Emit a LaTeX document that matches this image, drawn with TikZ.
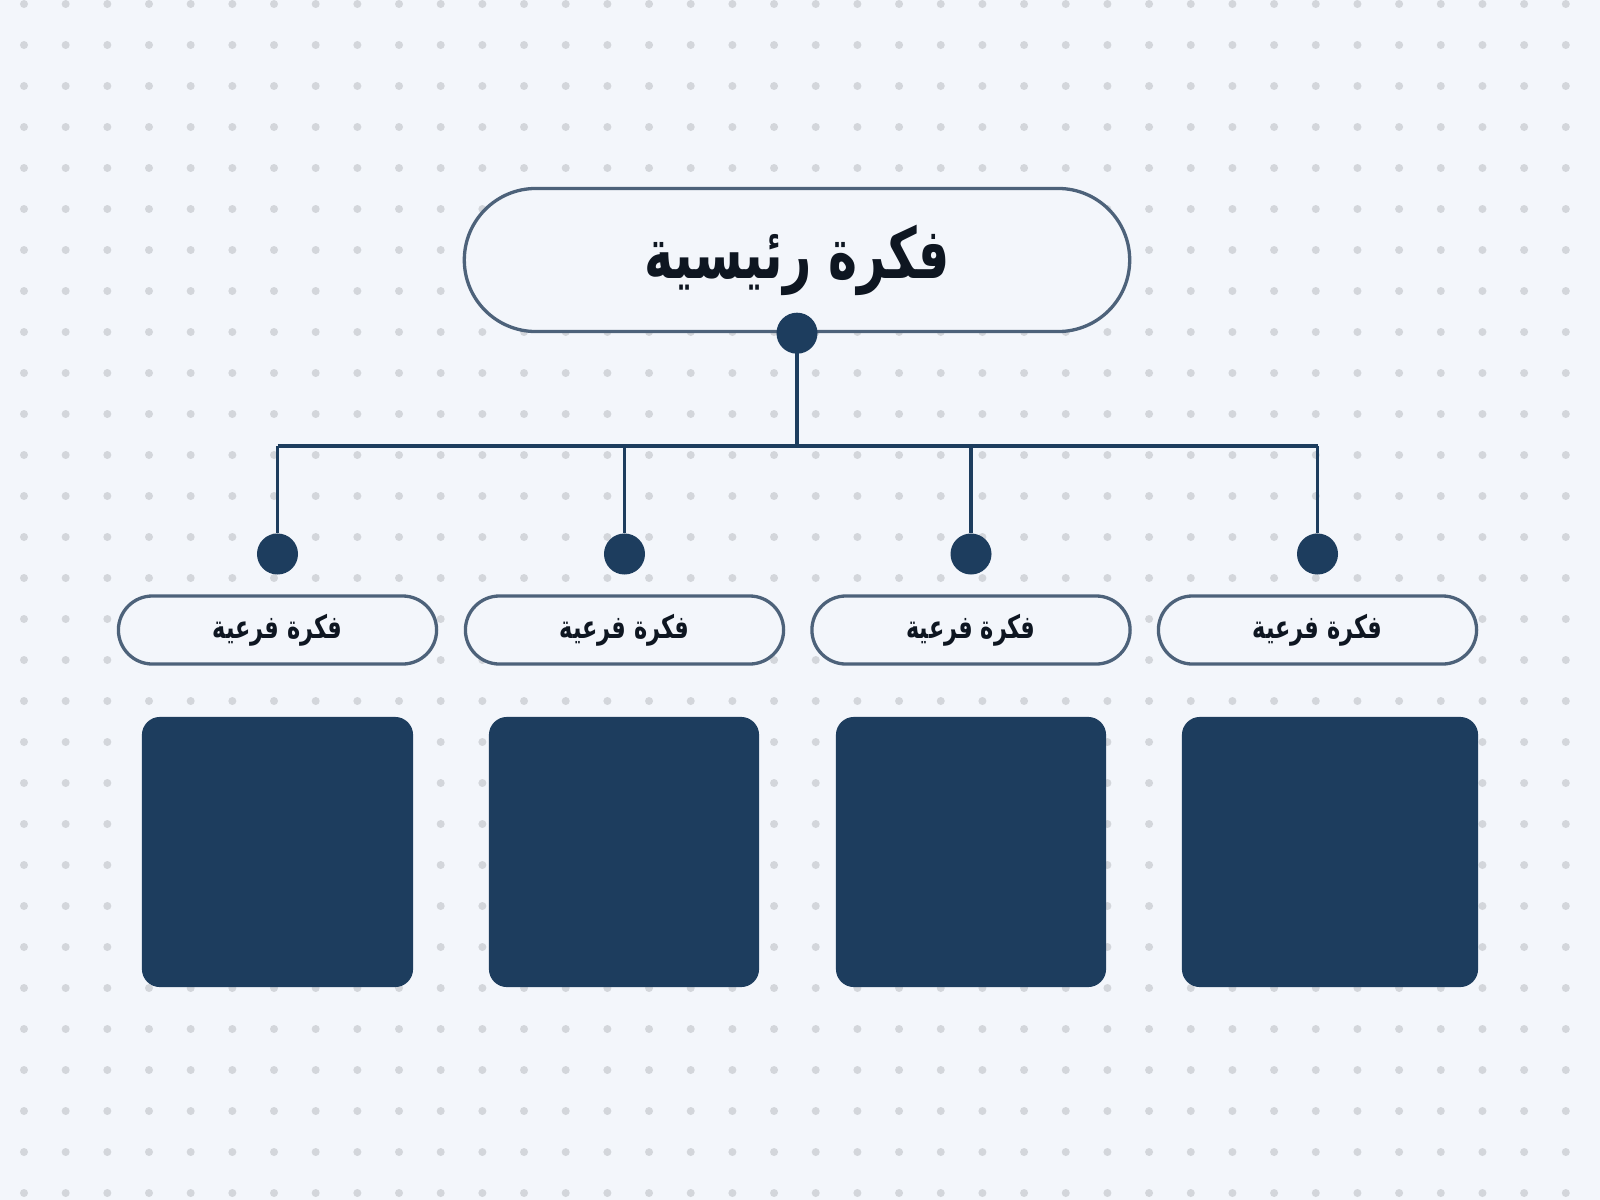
\documentclass[tikz,border=0pt]{standalone}
\usepackage{fontspec}
\newfontfamily\arabicfont[Script=Arabic,FakeStretch=0.7]{DejaVu Sans}
\TeXXeTstate=1
\definecolor{paper}{HTML}{F3F6FB}
\definecolor{speck}{HTML}{D3D6DB}
\definecolor{navy}{HTML}{1D3D5E}
\definecolor{edge}{HTML}{4D627A}
\definecolor{ink}{HTML}{0E1621}
\begin{document}
\begin{tikzpicture}[x=0.01cm,y=-0.01cm,
  mainidea/.style={draw=edge, line width=0.033cm, fill=paper, rounded corners=0.715cm,
    minimum width=6.65cm, minimum height=1.43cm, inner sep=0pt, text=ink,
    font=\arabicfont\bfseries\fontsize{20}{24}\selectfont},
  subidea/.style={draw=edge, line width=0.033cm, fill=paper, rounded corners=0.34cm,
    minimum width=3.18cm, minimum height=0.68cm, inner sep=0pt, text=ink,
    font=\arabicfont\bfseries\fontsize{9.1}{11}\selectfont},
  knob/.style={circle, fill=navy, minimum size=0.41cm, inner sep=0pt},
  card/.style={fill=navy, rounded corners=0.18cm, minimum height=2.7cm, inner sep=0pt},
  link/.style={draw=navy, line width=0.036cm}]
\useasboundingbox (0,0) rectangle (1600,1200);
\fill[paper] (0,0) rectangle (1600,1200);
% dotted paper
\foreach \i in {0,...,37}
  \foreach \j in {0,...,29}
    \fill[speck] (24+41.67*\i, 4+41*\j) circle[radius=0.04cm];

\node[mainidea] (m) at (797,260) {\beginR فكرة رئيسية\endR};

\node[subidea] (s1) at (277.5,630) {\beginR فكرة فرعية\endR};
\node[subidea] (s2) at (624.5,630) {\beginR فكرة فرعية\endR};
\node[subidea] (s3) at (971,630) {\beginR فكرة فرعية\endR};
\node[subidea] (s4) at (1317.5,630) {\beginR فكرة فرعية\endR};

\node[card, minimum width=2.71cm] (c1) at (277.5,852) {};
\node[card, minimum width=2.70cm] (c2) at (624,852) {};
\node[card, minimum width=2.70cm] (c3) at (971,852) {};
\node[card, minimum width=2.96cm] (c4) at (1330,852) {};

\coordinate (j1) at (277.5,446);
\coordinate (j2) at (624.5,446);
\coordinate (j3) at (971,446);
\coordinate (j4) at (1317.5,446);

\node[knob] (d1) at (277.5,554) {};
\node[knob] (d2) at (624.5,554) {};
\node[knob] (d3) at (971,554) {};
\node[knob] (d4) at (1317.5,554) {};

\path[link] (m.south) -- (m.south |- j1);
\path[link] (j1) -- (j4);
\path[link] (j1) -- (d1);
\path[link] (j2) -- (d2);
\path[link] (j3) -- (d3);
\path[link] (j4) -- (d4);
\node[knob] (d0) at (m.south) {};
\end{tikzpicture}
\end{document}
